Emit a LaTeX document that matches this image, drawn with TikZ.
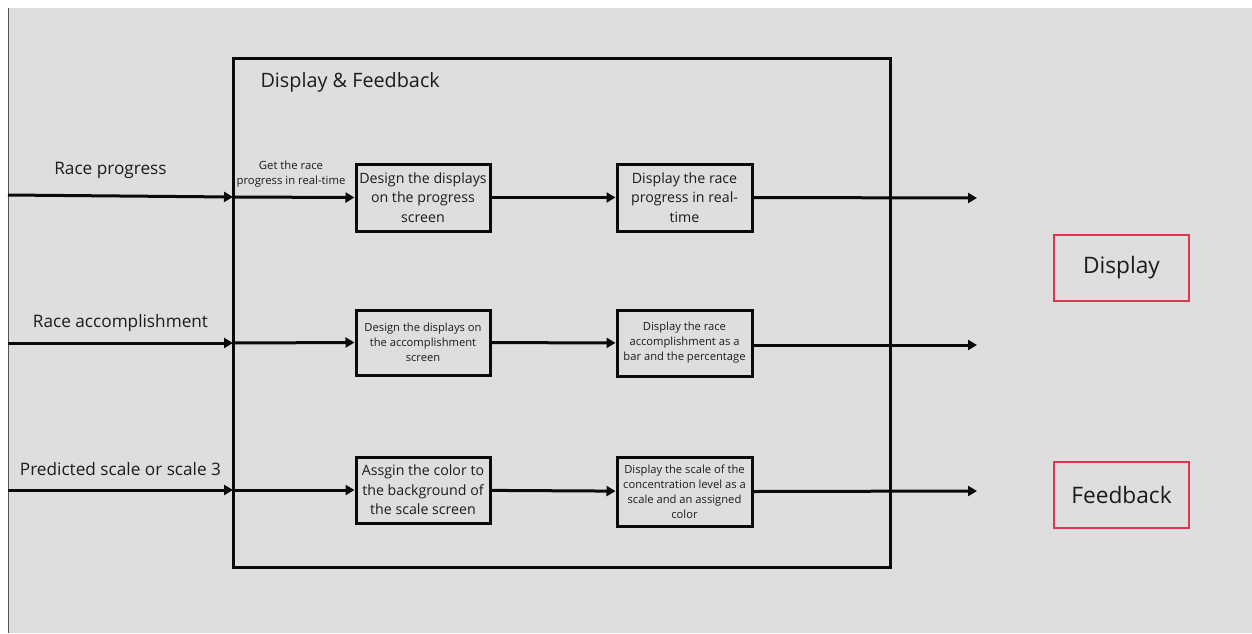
\documentclass[tikz,border=0pt]{standalone}
\usepackage{fontspec}
\setmainfont{Open Sans}
\usetikzlibrary{arrows.meta}
\definecolor{bg}{HTML}{DEDEDE}
\definecolor{ink}{HTML}{0A0A0A}
\definecolor{txt}{HTML}{1C1C1C}
\definecolor{edge}{HTML}{555555}
\definecolor{redline}{HTML}{E0354B}
\tikzset{
  flow/.style={line width=3pt, draw=ink, -{Triangle[length=9pt,width=10pt]}},
  proc/.style={draw=ink, line width=3pt, align=center, inner sep=0pt, text=txt},
  bigtxt/.style={font=\fontsize{14.2}{19.5}\selectfont},
  smalltxt/.style={font=\fontsize{11.2}{15}\selectfont},
  inlabel/.style={text=txt, font=\fontsize{17.2}{20}\selectfont},
  outbox/.style={draw=redline, line width=2.8pt, minimum width=135pt, minimum height=66pt,
    inner sep=0pt, font=\fontsize{22.7}{26}\selectfont, text=txt},
}
\begin{document}
\begin{tikzpicture}[x=1pt,y=-1pt]
  % canvas
  \useasboundingbox (0,0) rectangle (1252,633);
  \fill[white] (0,0) rectangle (1252,633);
  \fill[bg] (8,8) rectangle (1252,633);
  \draw[edge, line width=1.5pt] (8.5,8) -- (8.5,633);

  % system frame
  \node[draw=ink, line width=3pt, minimum width=657pt, minimum height=509pt, inner sep=0pt]
    (sys) at (561.5,313) {};
  \node[anchor=west, text=txt, font=\fontsize{19.8}{23}\selectfont] (title) at (257,82) {Display \& Feedback};

  % process boxes
  \node[proc, bigtxt, minimum width=134pt, minimum height=67pt] (a1) at (423,197.5)
    {Design the displays\\on the progress\\screen};
  \node[proc, bigtxt, minimum width=135pt, minimum height=67pt] (b1) at (684.5,197.5)
    {Display the race\\progress in real-\\time};
  \node[proc, smalltxt, minimum width=134pt, minimum height=65pt] (a2) at (423,342.5)
    {Design the displays on\\the accomplishment\\screen};
  \node[proc, smalltxt, minimum width=135pt, minimum height=66pt] (b2) at (684.5,343)
    {Display the race\\accomplishment as a\\bar and the percentage};
  \node[proc, bigtxt, minimum width=134pt, minimum height=66pt] (a3) at (423,490)
    {Assgin the color to\\the background of\\the scale screen};
  \node[proc, smalltxt, minimum width=135pt, minimum height=69pt] (b3) at (684.5,491.5)
    {Display the scale of the\\concentration level as a\\scale and an assigned\\color};

  % inputs
  \node[inlabel] (l1) at (110.5,170) {Race progress};
  \node[inlabel] (l2) at (120.5,323) {Race accomplishment};
  \node[inlabel] (l3) at (120.5,469) {Predicted scale or scale 3};
  \coordinate (in1) at (8,195);
  \coordinate (in2) at (8,343);
  \coordinate (in3) at (8,490);
  \coordinate (j1) at (233,197);
  \coordinate (j2) at (233,343);
  \coordinate (j3) at (233,490);

  % outputs
  \coordinate (o1) at (977,198);
  \coordinate (o2) at (977,345);
  \coordinate (o3) at (977,491);
  \node[outbox] (disp) at (1121.5,268) {Display};
  \node[outbox] (fb) at (1121.5,495) {Feedback};

  % connectors
  \draw[flow] (in1) -- (j1);
  \draw[flow] (in2) -- (j2);
  \draw[flow] (in3) -- (j3);
  \draw[flow] (j1) -- (a1.west);
  \draw[flow] (j2) -- (a2.west);
  \draw[flow] (j3) -- (a3.west);
  \draw[flow] (a1) -- (b1);
  \draw[flow] (a2) -- (b2);
  \draw[flow] (a3) -- (b3);
  \draw[flow] (b1.east) -- (o1);
  \draw[flow] (b2.east |- o2) -- (o2);
  \draw[flow] (b3.east) -- (o3);

  \node[text=txt, align=center, font=\fontsize{11.3}{15}\selectfont] (gl) at (291,174.5)
    {Get the race\\progress in real-time};
\end{tikzpicture}
\end{document}
